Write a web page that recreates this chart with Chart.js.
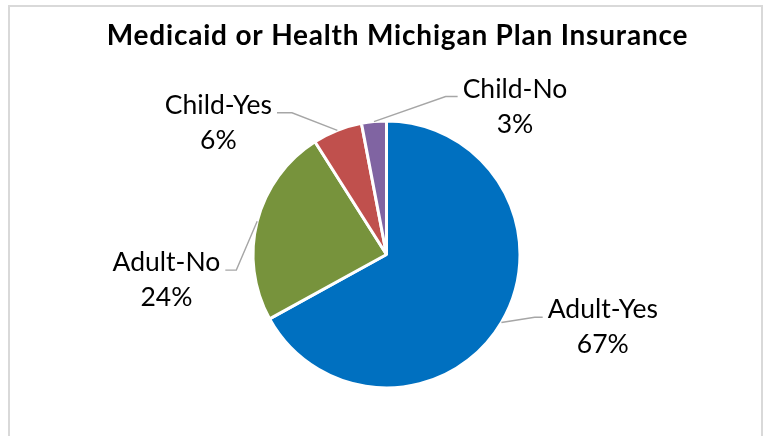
<!DOCTYPE html>
<html>
<head>
<meta charset="utf-8">
<script src="https://cdn.jsdelivr.net/npm/chart.js@4.4.1/dist/chart.umd.min.js"></script>
<style>
  html, body { margin: 0; padding: 0; background: #fff; overflow: hidden; }
  #wrap { position: relative; width: 769px; height: 436px; overflow: hidden; }
  #frame { position: absolute; left: 8px; top: 5px; width: 755px; height: 500px;
           border: 2px solid #D9D9D9; box-sizing: border-box; }
  canvas { position: absolute; left: 0; top: 0; }
</style>
</head>
<body>
<div id="wrap">
  <div id="frame"></div>
  <canvas id="c" width="769" height="436"></canvas>
</div>
<script>
// ---- data ----
const chartTitle = "Medicaid or Health Michigan Plan Insurance";
const categories = ["Adult-Yes", "Adult-No", "Child-Yes", "Child-No"];
const percentages = [67, 24, 6, 3];
const sliceColors = ["#0070C0", "#77933C", "#C0504D", "#8064A2"];

// label leader-line layout (elbow in units of pie radius, relative to centre; h = horizontal tail)
const labelLayout = [
  { ex: 1.110, ey: 0.470, h: 8 },
  { ex: -1.125, ey: 0.117, h: -11 },
  { ex: -0.708, ey: -1.062, h: -15 },
  { ex: 0.443, ey: -1.183, h: 12 }
];

const labelFont = "26.5px Lato";
const titleFont = "bold 28px Lato";

const labelPlugin = {
  id: 'excelLabels',
  afterDraw(chart) {
    const ctx = chart.ctx;
    const meta = chart.getDatasetMeta(0);
    ctx.save();
    // title
    ctx.font = titleFont;
    ctx.fillStyle = "#000";
    ctx.textAlign = "center";
    ctx.textBaseline = "alphabetic";
    if ('letterSpacing' in ctx) ctx.letterSpacing = "0.8px";
    ctx.fillText(chartTitle, 397.5, 45);
    if ('letterSpacing' in ctx) ctx.letterSpacing = "0px";

    meta.data.forEach((arc, i) => {
      const cx = arc.x, cy = arc.y, r = arc.outerRadius;
      const mid = (arc.startAngle + arc.endAngle) / 2;
      const p0x = cx + Math.cos(mid) * r, p0y = cy + Math.sin(mid) * r;
      const L = labelLayout[i];
      const ex = cx + L.ex * r, ey = cy + L.ey * r;
      const tx = ex + L.h;
      ctx.strokeStyle = "#A6A6A6";
      ctx.lineWidth = 1.4;
      ctx.beginPath();
      ctx.moveTo(p0x, p0y);
      ctx.lineTo(ex, ey);
      ctx.lineTo(tx, ey);
      ctx.stroke();

      ctx.font = labelFont;
      ctx.fillStyle = "#000";
      ctx.textAlign = "center";
      const line1 = categories[i];
      const line2 = percentages[i] + "%";
      const w = Math.max(ctx.measureText(line1).width, ctx.measureText(line2).width);
      const gap = 5;
      const bx = L.h >= 0 ? tx + gap + w / 2 : tx - gap - w / 2;
      ctx.fillText(line1, bx, ey + 1);
      ctx.fillText(line2, bx, ey + 36);
    });
    ctx.restore();
  }
};

new Chart(document.getElementById('c'), {
  type: 'pie',
  data: {
    labels: categories,
    datasets: [{
      data: percentages,
      backgroundColor: sliceColors,
      borderColor: "#FFFFFF",
      borderWidth: 3
    }]
  },
  options: {
    responsive: false,
    animation: false,
    layout: { padding: { left: 150, right: 146, top: 119.5, bottom: 46.5 } },
    plugins: {
      legend: { display: false },
      tooltip: { enabled: false },
      title: { display: false }
    }
  },
  plugins: [labelPlugin]
});
</script>
</body>
</html>
